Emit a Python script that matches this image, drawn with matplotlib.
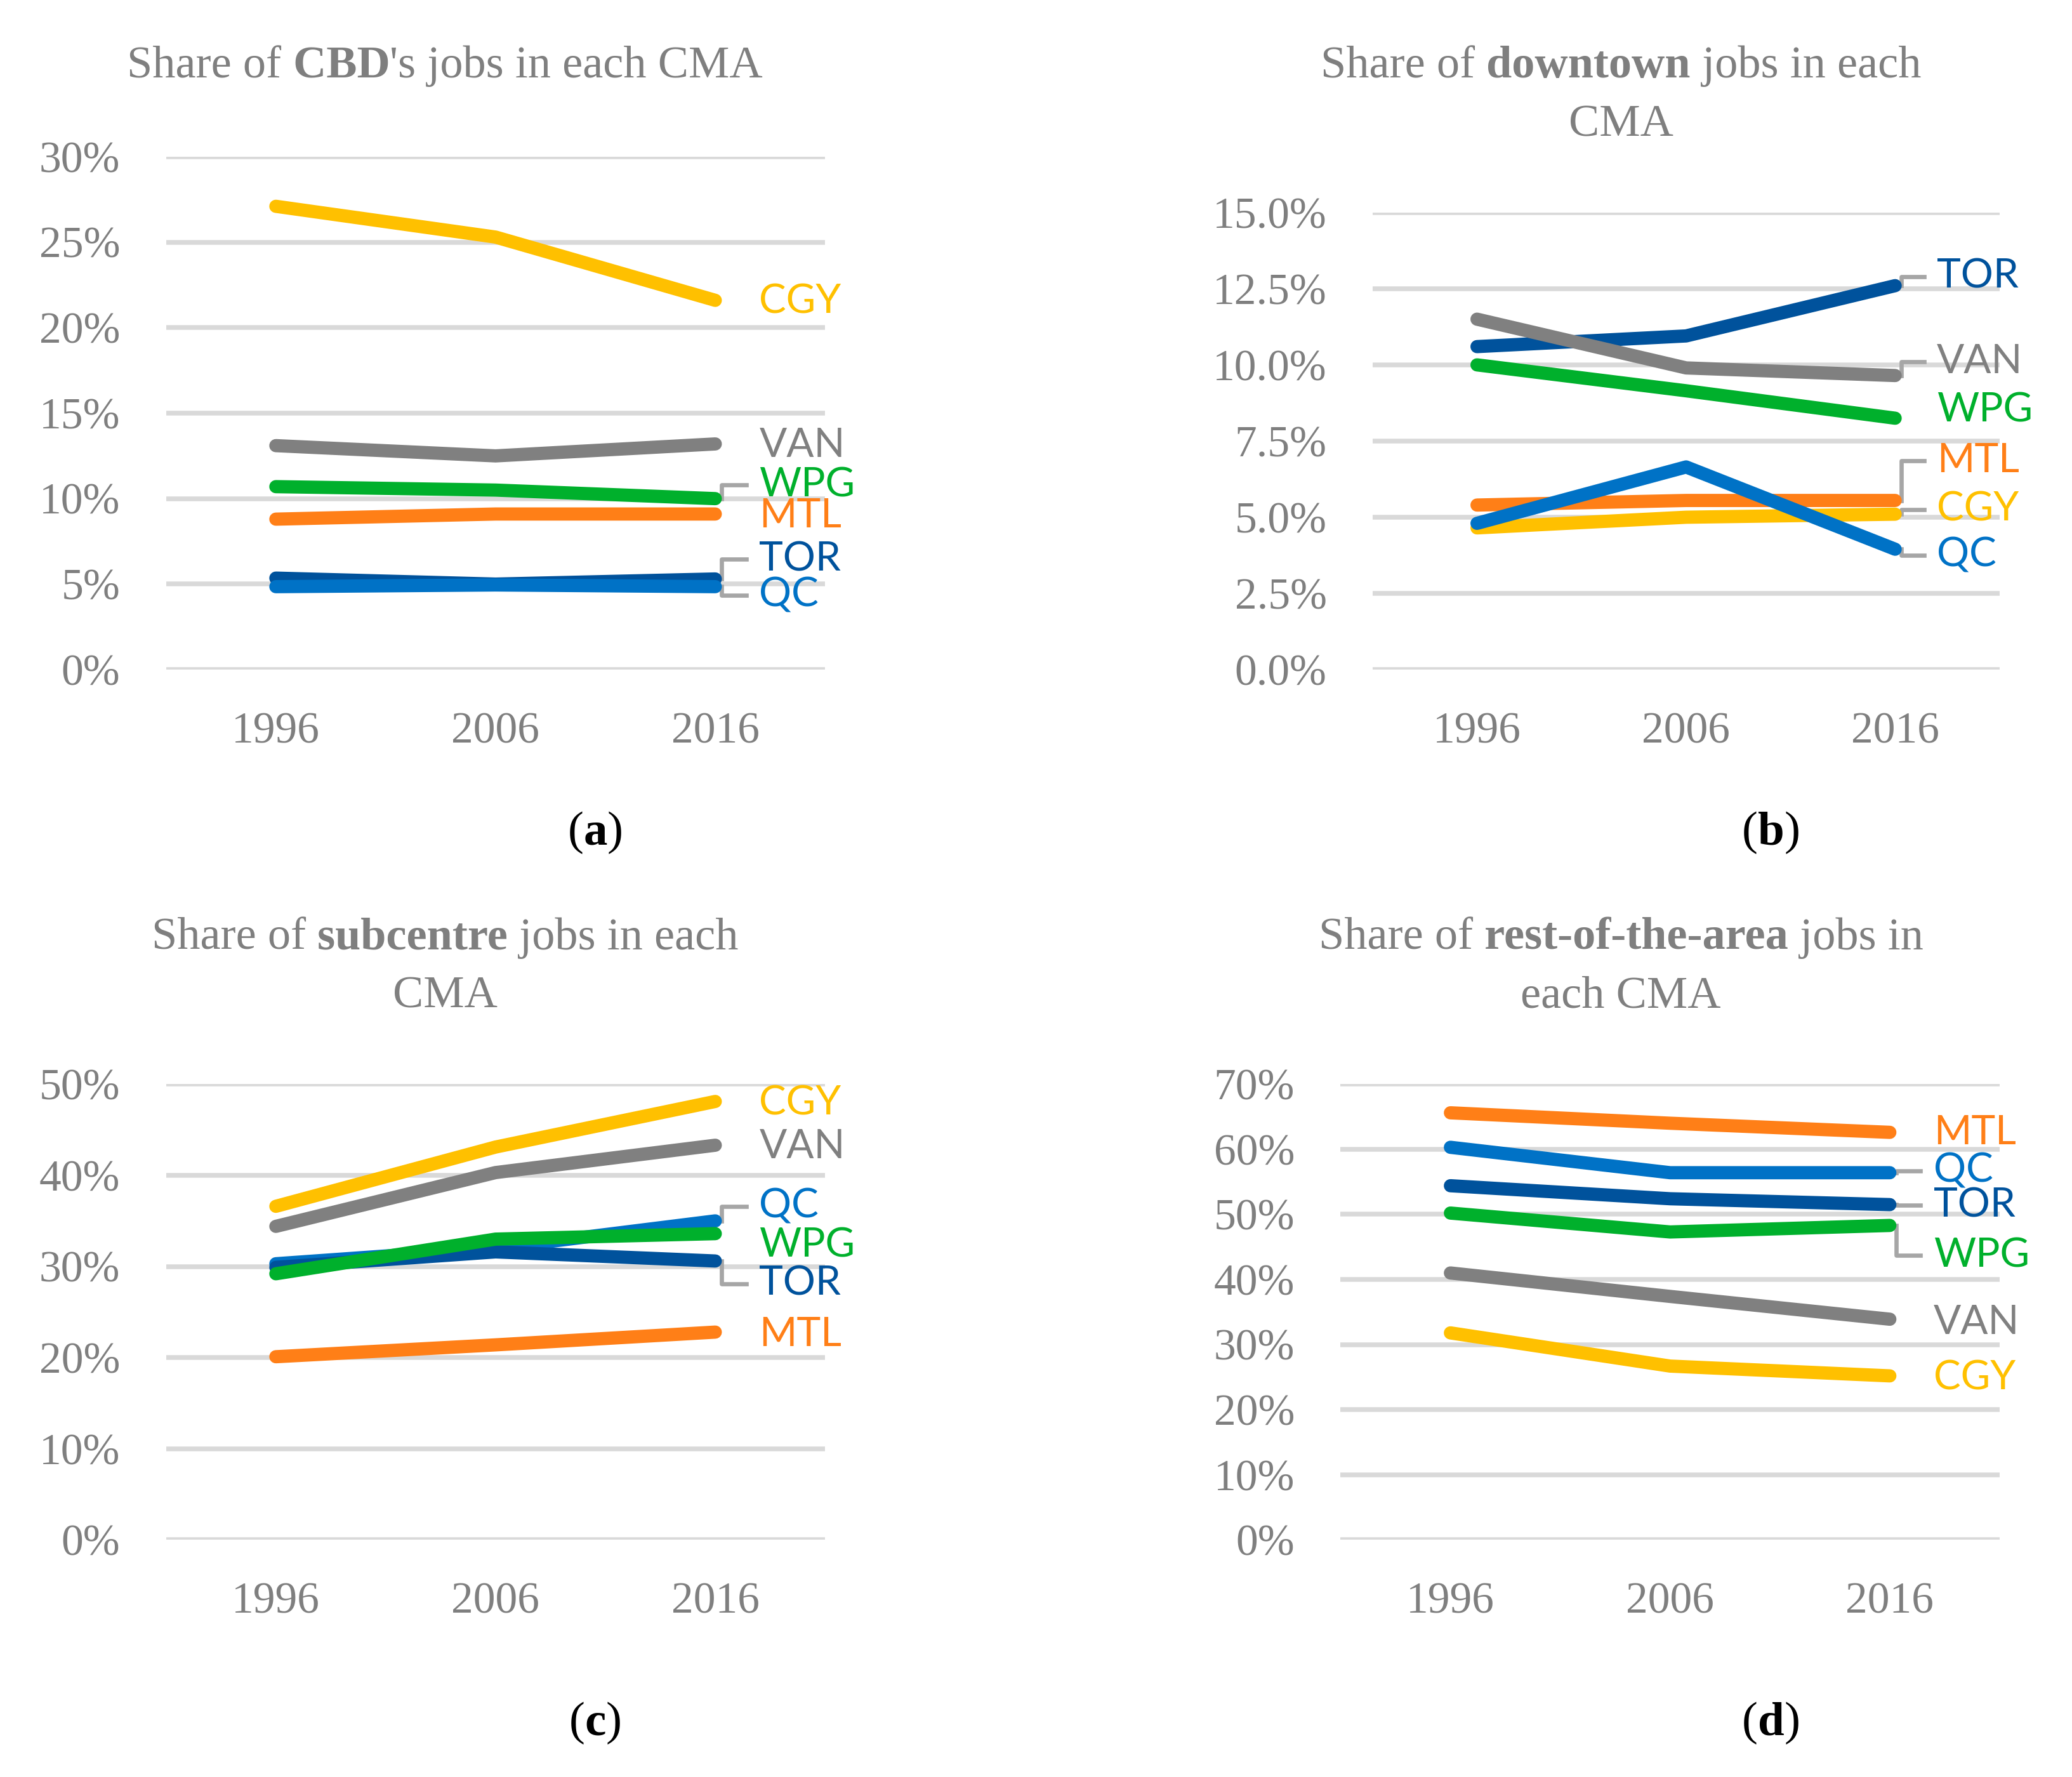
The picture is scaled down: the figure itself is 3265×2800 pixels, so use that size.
import matplotlib
matplotlib.use("Agg")
import matplotlib.pyplot as plt
from matplotlib.offsetbox import TextArea, HPacker, AnnotationBbox

years = ["1996", "2006", "2016"]

# share of jobs (%) in each CMA
cbd = {"VAN": [13.1, 12.5, 13.2], "WPG": [10.7, 10.5, 10.0], "MTL": [8.8, 9.1, 9.1],
       "TOR": [5.35, 5.0, 5.3], "QC": [4.85, 4.95, 4.85], "CGY": [27.1, 25.3, 21.6]}
downtown = {"TOR": [10.6, 10.95, 12.6], "VAN": [11.5, 9.9, 9.65], "WPG": [10.0, 9.15, 8.25],
            "MTL": [5.4, 5.55, 5.55], "CGY": [4.65, 5.0, 5.1], "QC": [4.8, 6.65, 3.95]}
subcentre = {"CGY": [36.6, 43.1, 48.1], "VAN": [34.4, 40.3, 43.3], "MTL": [20.1, 21.4, 22.8],
             "QC": [30.3, 32.0, 35.0], "TOR": [29.9, 31.6, 30.6], "WPG": [29.2, 33.0, 33.6]}
rest = {"MTL": [65.6, 64.0, 62.6], "QC": [60.3, 56.4, 56.4], "TOR": [54.4, 52.4, 51.5],
        "WPG": [50.2, 47.3, 48.3], "VAN": [41.0, 37.4, 33.9], "CGY": [31.8, 26.7, 25.2]}

colors = {"CGY": "#FFC000", "VAN": "#808080", "WPG": "#00B02C", "MTL": "#FF7F17",
          "TOR": "#00529C", "QC": "#0072C6"}

GREY = "#7F7F7F"
SERIF = "Liberation Serif"
SANS = "Lato"

plt.rcParams["font.family"] = SERIF

# layout of the four panels
panels = [
    dict(data=cbd, rect=[0.0801, 0.6232, 0.318, 0.2886], ymax=30, step=5, fmt="{:.0f}%",
         title=[[("Share of", "normal"), (" CBD", "bold"), ("'s jobs in each CMA", "normal")]],
         tx=0.2147, ty=[0.9626], letter="a", lx=0.2872, ly=0.5312,
         label_y={"CGY": 21.5, "VAN": 13.1, "WPG": 10.8, "MTL": 9.0, "TOR": 6.45, "QC": 4.35},
         leaders=["WPG", "TOR", "QC"]),
    dict(data=downtown, rect=[0.6622, 0.6232, 0.3026, 0.2572], ymax=15, step=2.5, fmt="{:.1f}%",
         title=[[("Share of", "normal"), (" downtown", "bold"), (" jobs in each", "normal")],
                [("CMA", "normal")]],
         tx=0.782, ty=[0.9626, 0.9297], letter="b", lx=0.8545, ly=0.5312,
         label_y={"TOR": 12.9, "VAN": 10.1, "WPG": 8.5, "MTL": 6.85, "CGY": 5.25, "QC": 3.75},
         leaders=["TOR", "VAN", "MTL", "CGY", "QC"]),
    dict(data=subcentre, rect=[0.0801, 0.1334, 0.318, 0.2565], ymax=50, step=10, fmt="{:.0f}%",
         title=[[("Share of", "normal"), (" subcentre", "bold"), (" jobs in each", "normal")],
                [("CMA", "normal")]],
         tx=0.2147, ty=[0.4721, 0.4392], letter="c", lx=0.2872, ly=0.0302,
         label_y={"CGY": 47.9, "VAN": 43.1, "QC": 36.6, "WPG": 32.3, "TOR": 28.1, "MTL": 22.5},
         leaders=["QC", "TOR"]),
    dict(data=rest, rect=[0.6468, 0.1334, 0.318, 0.2565], ymax=70, step=10, fmt="{:.0f}%",
         title=[[("Share of", "normal"), (" rest-of-the-area", "bold"), (" jobs in", "normal")],
                [("each CMA", "normal")]],
         tx=0.782, ty=[0.4721, 0.4392], letter="d", lx=0.8545, ly=0.0302,
         label_y={"MTL": 62.5, "QC": 56.7, "TOR": 51.4, "WPG": 43.7, "VAN": 33.4, "CGY": 24.9},
         leaders=["QC", "TOR", "WPG"]),
]

fig = plt.figure(figsize=(16.33, 14), dpi=200)


def put_line(parts, x, y, size, color):
    boxes = [TextArea(t, textprops=dict(family=SERIF, size=size, color=color, weight=w))
             for t, w in parts]
    row = HPacker(children=boxes, align="baseline", pad=0, sep=0)
    ab = AnnotationBbox(row, (x, y), xycoords="figure fraction", frameon=False,
                        box_alignment=(0.5, 0.5), annotation_clip=False)
    fig.add_artist(ab)


for p in panels:
    ax = fig.add_axes(p["rect"])
    x = list(range(len(years)))
    for city, vals in p["data"].items():
        ax.plot(x, vals, color=colors[city], lw=7.5, solid_capstyle="round",
                solid_joinstyle="round", clip_on=False, zorder=3)
        ly = p["label_y"][city]
        if city in p["leaders"]:
            ax.plot([2.03, 2.03, 2.14], [vals[-1], ly, ly], color="#A6A6A6", lw=2.4,
                    clip_on=False, zorder=2)
        ax.text(2.2, ly, city, color=colors[city], family=SANS, fontsize=23,
                ha="left", va="center")

    ax.set_xlim(-0.5, 2.5)
    ax.set_ylim(0, p["ymax"])
    ticks = [i * p["step"] for i in range(int(round(p["ymax"] / p["step"])) + 1)]
    ax.set_yticks(ticks)
    ax.set_yticklabels([p["fmt"].format(t) for t in ticks])
    ax.set_xticks(x)
    ax.set_xticklabels(years)
    ax.grid(axis="y", color="#D9D9D9", lw=2.7, zorder=0)
    ax.set_axisbelow(True)
    for s in ax.spines.values():
        s.set_visible(False)
    ax.tick_params(length=0, labelsize=25, labelcolor=GREY)
    ax.tick_params(axis="y", pad=26)
    ax.tick_params(axis="x", pad=24)

    for line, ty in zip(p["title"], p["ty"]):
        put_line(line, p["tx"], ty, 26, GREY)
    put_line([("(", "normal"), (p["letter"], "bold"), (")", "normal")],
             p["lx"], p["ly"], 27, "black")

fig.savefig("out.png", dpi=200)
